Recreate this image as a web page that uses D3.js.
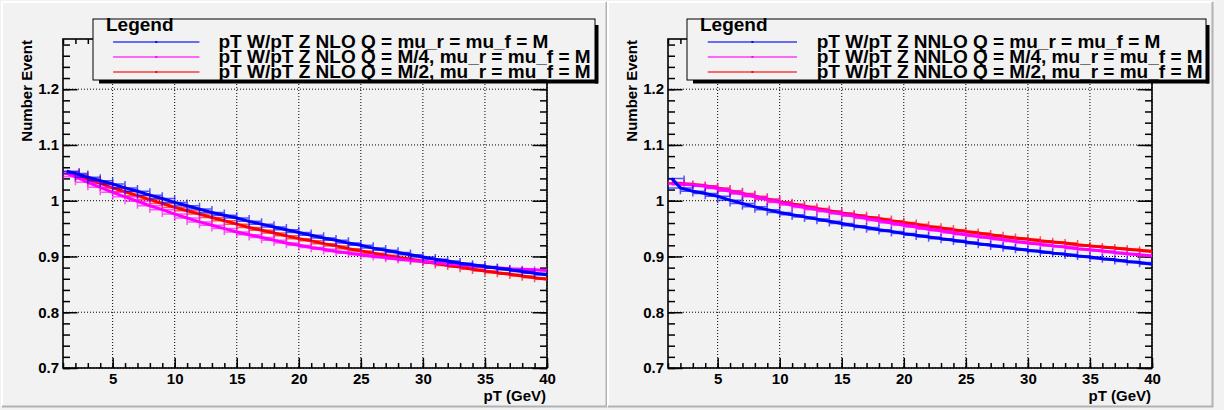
<!DOCTYPE html>
<html>
<head>
<meta charset="utf-8">
<script src="https://cdn.jsdelivr.net/npm/d3@7"></script>
<style>
  body { margin: 0; background: #f2f2f2; }
  text { font-family: "Liberation Sans", Arial, Helvetica, sans-serif; font-weight: bold; }
</style>
</head>
<body>
<div id="chart"></div>
<script>
// pT W / pT Z ratio, NLO (left) and NNLO (right)
var pT = [1.3, 2, 3, 4, 5, 6, 7, 8, 9, 10, 11, 12, 13, 14, 15, 16, 17, 18, 19, 20,
          21, 22, 23, 24, 25, 26, 27, 28, 29, 30, 31, 32, 33, 34, 35, 36, 37, 38, 39, 40];
var pTErr = 1;

var nloM  = [1.053, 1.049, 1.042, 1.036, 1.030, 1.023, 1.017, 1.010, 1.004, 0.997,
             0.991, 0.985, 0.979, 0.974, 0.969, 0.963, 0.958, 0.953, 0.948, 0.943,
             0.938, 0.933, 0.929, 0.924, 0.920, 0.915, 0.911, 0.907, 0.903, 0.899,
             0.895, 0.892, 0.888, 0.885, 0.882, 0.879, 0.876, 0.873, 0.870, 0.867];
var nloM4 = [1.049, 1.043, 1.033, 1.024, 1.015, 1.007, 0.999, 0.991, 0.984, 0.976,
             0.969, 0.962, 0.956, 0.950, 0.944, 0.939, 0.934, 0.929, 0.924, 0.920,
             0.916, 0.913, 0.909, 0.906, 0.903, 0.900, 0.898, 0.895, 0.893, 0.891,
             0.889, 0.887, 0.885, 0.883, 0.881, 0.880, 0.878, 0.877, 0.876, 0.875];
var nloM2 = [1.052, 1.047, 1.039, 1.031, 1.023, 1.016, 1.009, 1.002, 0.995, 0.988,
             0.982, 0.976, 0.970, 0.964, 0.958, 0.952, 0.947, 0.942, 0.937, 0.932,
             0.928, 0.923, 0.919, 0.914, 0.910, 0.906, 0.902, 0.898, 0.895, 0.891,
             0.888, 0.884, 0.881, 0.877, 0.874, 0.871, 0.868, 0.865, 0.862, 0.859];

var nnloM  = [1.040, 1.023, 1.017, 1.013, 1.008, 1.001, 0.995, 0.989, 0.984, 0.979,
              0.975, 0.971, 0.967, 0.963, 0.959, 0.955, 0.952, 0.948, 0.945, 0.941,
              0.938, 0.935, 0.932, 0.929, 0.926, 0.923, 0.920, 0.917, 0.914, 0.911,
              0.909, 0.906, 0.904, 0.901, 0.899, 0.896, 0.894, 0.891, 0.889, 0.886];
var nnloM4 = [1.030, 1.030, 1.028, 1.026, 1.022, 1.017, 1.012, 1.007, 1.002, 0.997,
              0.992, 0.988, 0.984, 0.980, 0.976, 0.972, 0.968, 0.964, 0.960, 0.956,
              0.953, 0.949, 0.946, 0.942, 0.939, 0.936, 0.933, 0.930, 0.927, 0.924,
              0.922, 0.919, 0.917, 0.914, 0.912, 0.910, 0.907, 0.905, 0.903, 0.901];
var nnloM2 = [1.032, 1.031, 1.029, 1.027, 1.023, 1.018, 1.013, 1.008, 1.003, 0.998,
              0.994, 0.990, 0.986, 0.982, 0.978, 0.975, 0.971, 0.968, 0.964, 0.961,
              0.958, 0.954, 0.951, 0.948, 0.945, 0.942, 0.939, 0.936, 0.933, 0.931,
              0.928, 0.926, 0.924, 0.921, 0.919, 0.917, 0.915, 0.913, 0.911, 0.909];

var xTicks = [5, 10, 15, 20, 25, 30, 35, 40];
var yTicks = [0.7, 0.8, 0.9, 1.0, 1.1, 1.2];
var xDomain = [1, 40];
var yDomain = [0.7, 1.29];

var nloLabels  = ['pT W/pT Z NLO Q = mu_r = mu_f = M',
                  'pT W/pT Z NLO Q = M/4, mu_r = mu_f = M',
                  'pT W/pT Z NLO Q = M/2, mu_r = mu_f = M'];
var nnloLabels = ['pT W/pT Z NNLO Q = mu_r = mu_f = M',
                  'pT W/pT Z NNLO Q = M/4, mu_r = mu_f = M',
                  'pT W/pT Z NNLO Q = M/2, mu_r = mu_f = M'];
var colors = ['#0000ff', '#ff00ff', '#ff0000'];

var W = 1224, H = 410;
var svg = d3.select('#chart').append('svg')
  .attr('width', W).attr('height', H);

var drawPad = function(opt) {
  var g = svg.append('g');
  var left = opt.frameLeft, right = opt.frameLeft + 484, top = 39, bottom = 368;

  // pad with raised border
  g.append('rect').attr('x', opt.padX).attr('y', 1)
    .attr('width', opt.padW).attr('height', 406).attr('fill', '#f2f2f2');
  g.append('path')
    .attr('d', 'M' + (opt.padX + 1) + ',406 V2 H' + (opt.padX + opt.padW - 1))
    .attr('fill', 'none').attr('stroke', '#ffffff').attr('stroke-width', 2);
  g.append('path')
    .attr('d', 'M' + (opt.padX + 1) + ',406.5 H' + (opt.padX + opt.padW - 0.5) + ' V2')
    .attr('fill', 'none').attr('stroke', '#b2b2b2').attr('stroke-width', 2);

  var x = d3.scaleLinear().domain(xDomain).range([left, right]);
  var y = d3.scaleLinear().domain(yDomain).range([bottom, top]);

  // dotted grid
  g.append('g').selectAll('line').data(xTicks).enter().append('line')
    .attr('x1', function(d) { return x(d); }).attr('x2', function(d) { return x(d); })
    .attr('y1', top).attr('y2', bottom)
    .attr('stroke', '#000').attr('stroke-width', 1).attr('stroke-dasharray', '1,2');
  g.append('g').selectAll('line').data(yTicks).enter().append('line')
    .attr('x1', left).attr('x2', right)
    .attr('y1', function(d) { return y(d); }).attr('y2', function(d) { return y(d); })
    .attr('stroke', '#000').attr('stroke-width', 1).attr('stroke-dasharray', '1,2');

  // ticks on all four sides
  var xMinor = x.ticks(39), yMinor = y.ticks(30);
  var axes = [
    [d3.axisBottom(x).tickValues(xMinor).tickSize(-5), 'translate(0,' + bottom + ')'],
    [d3.axisBottom(x).tickValues(xTicks).tickSize(-10).tickPadding(5), 'translate(0,' + bottom + ')', true],
    [d3.axisTop(x).tickValues(xMinor).tickSize(-5), 'translate(0,' + top + ')'],
    [d3.axisTop(x).tickValues(xTicks).tickSize(-10), 'translate(0,' + top + ')'],
    [d3.axisLeft(y).tickValues(yMinor).tickSize(-7), 'translate(' + left + ',0)'],
    [d3.axisLeft(y).tickValues(yTicks).tickSize(-14.5).tickPadding(4), 'translate(' + left + ',0)', true],
    [d3.axisRight(y).tickValues(yMinor).tickSize(-7), 'translate(' + right + ',0)'],
    [d3.axisRight(y).tickValues(yTicks).tickSize(-14.5), 'translate(' + right + ',0)']
  ];
  axes.forEach(function(a) {
    var ax = a[0].tickSizeOuter(0);
    if (!a[2]) ax.tickFormat('');
    else ax.tickFormat(function(d) { return d3.format('~g')(d); });
    var ag = g.append('g').attr('transform', a[1]).call(ax);
    ag.select('.domain').remove();
    ag.selectAll('line').attr('stroke', '#000').attr('stroke-width', 1.5);
    ag.selectAll('text').attr('fill', '#000').style('font-size', '15px');
  });

  // frame
  g.append('rect').attr('x', left).attr('y', top)
    .attr('width', right - left).attr('height', bottom - top)
    .attr('fill', 'none').attr('stroke', '#000').attr('stroke-width', 1.6);

  // series
  var clipId = 'clip-' + opt.name;
  svg.append('defs').append('clipPath').attr('id', clipId)
    .append('rect').attr('x', left).attr('y', top)
    .attr('width', right - left).attr('height', bottom - top);
  var plot = g.append('g').attr('clip-path', 'url(#' + clipId + ')');

  var line = d3.line()
    .x(function(d) { return x(d[0]); })
    .y(function(d) { return y(d[1]); });

  [2, 1, 0].forEach(function(k) {
    var pts = pT.map(function(p, i) { return [p, opt.series[k][i]]; });
    plot.append('g').selectAll('path').data(pts).enter().append('path')
      .attr('d', function(d) {
        var x0 = x(d[0] - pTErr), x1 = x(d[0] + pTErr), yy = y(d[1]);
        return 'M' + x0 + ',' + yy + 'H' + x1 +
               'M' + x0 + ',' + (yy - 3) + 'V' + (yy + 3) +
               'M' + x1 + ',' + (yy - 3) + 'V' + (yy + 3);
      })
      .attr('fill', 'none').attr('stroke', colors[k])
      .attr('stroke-width', 1.5).attr('stroke-opacity', 0.65);
    plot.append('path').datum(pts).attr('d', line)
      .attr('fill', 'none').attr('stroke', colors[k]).attr('stroke-width', 3);
  });

  // axis titles
  g.append('text').attr('x', right - 1).attr('y', 401)
    .attr('text-anchor', 'end').style('font-size', '15px').text('pT (GeV)');
  g.append('text')
    .attr('transform', 'translate(' + (left - 31) + ',' + (top + 1) + ') rotate(-90)')
    .attr('text-anchor', 'end').style('font-size', '15px').text('Number Event');

  // legend
  var bx = opt.legendX, bw = opt.legendW, by = 19, bh = 61;
  g.append('rect').attr('x', bx + 6).attr('y', by + bh).attr('width', bw - 3).attr('height', 3.5).attr('fill', '#000');
  g.append('rect').attr('x', bx + bw).attr('y', by + 6).attr('width', 3.5).attr('height', bh - 2.5).attr('fill', '#000');
  g.append('rect').attr('x', bx).attr('y', by).attr('width', bw).attr('height', bh)
    .attr('fill', '#f2f2f2').attr('stroke', '#000').attr('stroke-width', 1);
  g.append('text').attr('x', bx + 13).attr('y', by + 12).style('font-size', '19px').text('Legend');

  var rows = [42, 57, 72];
  rows.forEach(function(ry, i) {
    g.append('line').attr('x1', bx + 0.04 * bw).attr('x2', bx + 0.212 * bw)
      .attr('y1', ry).attr('y2', ry)
      .attr('stroke', colors[i]).attr('stroke-width', 1.6).attr('stroke-opacity', 0.75);
    g.append('rect').attr('x', bx + 0.126 * bw - 1).attr('y', ry - 1)
      .attr('width', 2).attr('height', 2).attr('fill', colors[i]);
    g.append('text').attr('x', bx + 0.25 * bw).attr('y', ry + 5.5)
      .style('font-size', '19px').text(opt.labels[i]);
  });
};

drawPad({ name: 'nlo', padX: 1, padW: 606, frameLeft: 63, legendX: 93, legendW: 502,
          series: [nloM, nloM4, nloM2], labels: nloLabels });
drawPad({ name: 'nnlo', padX: 607, padW: 606, frameLeft: 668, legendX: 687, legendW: 519,
          series: [nnloM, nnloM4, nnloM2], labels: nnloLabels });
</script>
</body>
</html>
